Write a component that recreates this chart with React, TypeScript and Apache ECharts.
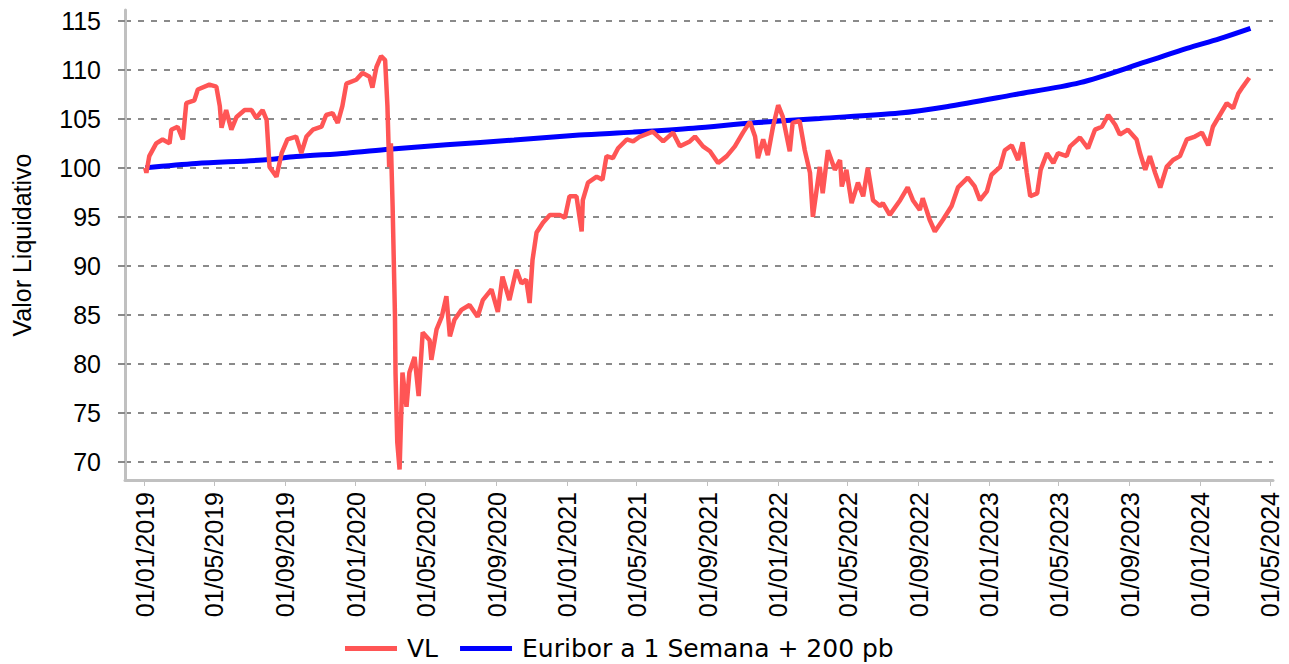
import React, { useEffect, useRef } from "react";
import * as echarts from "echarts";

const vlDates = [
  "2019-01-02","2019-01-04","2019-01-09","2019-01-21","2019-02-01","2019-02-13","2019-02-16","2019-02-27","2019-03-08","2019-03-14",
  "2019-03-28","2019-04-03","2019-04-23","2019-05-05","2019-05-11","2019-05-14","2019-05-22","2019-05-31","2019-06-09","2019-06-23",
  "2019-07-05","2019-07-13","2019-07-24","2019-07-31","2019-08-05","2019-08-17","2019-08-26","2019-09-05","2019-09-20","2019-09-29",
  "2019-10-08","2019-10-19","2019-11-03","2019-11-11","2019-11-22","2019-12-01","2019-12-09","2019-12-16","2020-01-02","2020-01-13",
  "2020-01-25","2020-01-30","2020-02-06","2020-02-14","2020-02-21","2020-02-25","2020-02-28","2020-03-02","2020-03-05","2020-03-09",
  "2020-03-10","2020-03-13","2020-03-17","2020-03-22","2020-03-29","2020-04-03","2020-04-12","2020-04-19","2020-04-26","2020-05-08",
  "2020-05-11","2020-05-20","2020-05-29","2020-06-06","2020-06-12","2020-06-20","2020-07-02","2020-07-16","2020-07-30","2020-08-08",
  "2020-08-23","2020-09-03","2020-09-11","2020-09-23","2020-10-05","2020-10-14","2020-10-22","2020-10-28","2020-11-02","2020-11-09",
  "2020-11-20","2020-12-02","2020-12-19","2020-12-28","2021-01-05","2021-01-17","2021-01-26","2021-01-28","2021-02-06","2021-02-21",
  "2021-03-03","2021-03-10","2021-03-21","2021-03-30","2021-04-14","2021-04-25","2021-05-07","2021-05-29","2021-06-16","2021-07-03",
  "2021-07-15","2021-08-01","2021-08-10","2021-08-24","2021-09-05","2021-09-19","2021-10-04","2021-10-18","2021-11-01","2021-11-13",
  "2021-11-22","2021-11-27","2021-12-06","2021-12-14","2021-12-23","2022-01-01","2022-01-09","2022-01-21","2022-01-26","2022-02-07",
  "2022-02-16","2022-02-25","2022-03-02","2022-03-14","2022-03-19","2022-03-28","2022-04-09","2022-04-18","2022-04-21","2022-04-29",
  "2022-05-08","2022-05-19","2022-05-28","2022-06-05","2022-06-14","2022-06-26","2022-07-01","2022-07-13","2022-07-31","2022-08-13",
  "2022-08-22","2022-09-03","2022-09-08","2022-09-20","2022-09-29","2022-10-13","2022-10-28","2022-11-08","2022-11-25","2022-12-07",
  "2022-12-16","2022-12-28","2023-01-05","2023-01-20","2023-01-28","2023-02-09","2023-02-20","2023-02-28","2023-03-07","2023-03-13",
  "2023-03-25","2023-03-31","2023-04-11","2023-04-22","2023-04-30","2023-05-15","2023-05-21","2023-06-07","2023-06-21","2023-07-03",
  "2023-07-15","2023-07-26","2023-08-07","2023-08-15","2023-08-29","2023-09-13","2023-09-19","2023-09-28","2023-10-06","2023-10-15",
  "2023-10-24","2023-11-04","2023-11-15","2023-11-27","2023-12-09","2023-12-23","2024-01-04","2024-01-15","2024-01-23","2024-02-04",
  "2024-02-16","2024-02-27","2024-03-07","2024-03-15","2024-03-26"
];
const vlValues = [
  100.0,99.5,101.2,102.5,102.9,102.5,103.9,104.2,102.9,106.6,
  106.9,108.0,108.5,108.3,106.3,104.1,105.9,103.9,105.2,105.9,
  105.9,105.1,105.9,104.9,100.1,99.1,101.5,102.9,103.2,101.5,
  103.2,103.9,104.2,105.4,105.6,104.6,106.3,108.6,109.0,109.7,
  109.3,108.2,110.3,111.4,111.0,106.3,100.1,102.5,96.0,85.0,
  79.0,72.0,69.2,79.1,75.6,79.1,80.7,76.7,83.2,82.4,
  80.4,83.5,84.8,86.9,82.8,84.5,85.5,86.0,84.8,86.5,
  87.6,85.3,88.9,86.5,89.6,88.2,88.6,86.2,90.6,93.4,
  94.4,95.2,95.2,94.9,97.1,97.1,93.5,96.7,98.5,99.1,
  98.8,101.2,101.0,102.0,102.9,102.7,103.2,103.7,102.7,103.6,
  102.2,102.7,103.2,102.2,101.7,100.5,101.2,102.2,103.6,104.7,
  103.2,101.0,102.9,101.3,104.2,106.4,105.2,101.7,104.6,104.8,
  101.8,99.5,95.0,100.1,97.4,101.8,99.8,100.8,98.1,99.8,
  96.4,98.5,97.1,100.0,96.7,96.1,96.4,95.2,96.7,98.0,
  96.7,95.7,96.9,94.7,93.5,94.7,96.1,98.0,99.0,98.1,
  96.7,97.6,99.3,100.1,101.8,102.3,100.8,102.6,99.5,97.1,
  97.4,99.8,101.5,100.5,101.5,101.2,102.2,103.1,102.0,103.9,
  104.2,105.4,104.4,103.4,103.9,102.9,101.5,99.8,101.2,99.5,
  98.0,100.1,100.8,101.2,102.9,103.2,103.6,102.3,104.2,105.4,
  106.6,106.1,107.6,108.3,109.2
];

const euriborDates = [
  "2019-01-02","2019-03-31","2019-07-24","2019-09-20","2019-12-16","2020-02-28","2020-06-06","2020-10-01",
  "2021-01-22","2021-04-25","2021-08-07","2021-11-20","2022-03-14","2022-07-30","2022-10-19","2023-02-11",
  "2023-06-07","2023-09-30","2023-12-09","2024-02-04","2024-03-28"
];
const euriborValues = [
  100.0,100.45,100.8,101.15,101.5,101.9,102.35,102.85,
  103.35,103.65,104.05,104.6,105.05,105.6,106.25,107.45,
  108.7,110.85,112.2,113.2,114.25
];

const xTickDates = [
  "2019-01-01","2019-05-01","2019-09-01","2020-01-01","2020-05-01","2020-09-01",
  "2021-01-01","2021-05-01","2021-09-01","2022-01-01","2022-05-01","2022-09-01",
  "2023-01-01","2023-05-01","2023-09-01","2024-01-01","2024-05-01"
];
const xMinDate = "2018-11-28";
const xMaxDate = "2024-05-06";
const yTicks = [70, 75, 80, 85, 90, 95, 100, 105, 110, 115];

const seriesNames = ["VL", "Euribor a 1 Semana + 200 pb"];
const yAxisName = "Valor Liquidativo";

const FONT = "'Liberation Sans', Arial, sans-serif";
const LEGEND_FONT = "'DejaVu Sans', 'Liberation Sans', sans-serif";

function ts(d: string) {
  return Date.parse(d + "T00:00:00Z");
}
function pad(n: number) {
  return n < 10 ? "0" + n : "" + n;
}

export default function App() {
  const ref = useRef<HTMLDivElement>(null);
  useEffect(() => {
    if (!ref.current) return;
    const chart = echarts.init(ref.current, undefined, { renderer: "svg" });
    const vlData = vlDates.map((d, i) => [ts(d), vlValues[i]]);
    const euData = euriborDates.map((d, i) => [ts(d), euriborValues[i]]);
    const xTicks = xTickDates.map(ts);
    chart.setOption({
      animation: false,
      backgroundColor: "#ffffff",
      textStyle: { fontFamily: FONT },
      grid: { left: 125, right: 16, top: 10, bottom: 184, containLabel: false },
      legend: {
        data: seriesNames,
        left: 345,
        top: 636,
        padding: 0,
        icon: "rect",
        itemWidth: 52,
        itemHeight: 5,
        itemGap: 22,
        textStyle: { fontSize: 25, color: "#000", fontFamily: LEGEND_FONT, padding: [0, 0, 0, 5] },
      },
      xAxis: {
        type: "value",
        min: ts(xMinDate),
        max: ts(xMaxDate),
        axisLine: { show: true, lineStyle: { color: "#c0c0c0", width: 3 } },
        axisTick: {
          show: true,
          length: 6,
          customValues: xTicks,
          lineStyle: { color: "#c0c0c0", width: 1 },
        },
        axisLabel: {
          customValues: xTicks,
          rotate: 90,
          margin: 12,
          fontSize: 25,
          color: "#000",
          fontFamily: FONT,
          hideOverlap: false,
          formatter: (v: number) => {
            const d = new Date(v);
            return pad(d.getUTCDate()) + "/" + pad(d.getUTCMonth() + 1) + "/" + d.getUTCFullYear();
          },
        },
        splitLine: { show: false },
      },
      yAxis: {
        type: "value",
        min: 68.13,
        max: 116.12,
        name: yAxisName,
        nameLocation: "middle",
        nameRotate: 90,
        nameGap: 91,
        nameTextStyle: { fontSize: 25, color: "#000", fontFamily: FONT },
        axisLine: { show: true, lineStyle: { color: "#c0c0c0", width: 3 } },
        axisTick: {
          show: true,
          length: 7,
          customValues: yTicks,
          lineStyle: { color: "#8a8a8a", width: 2 },
        },
        axisLabel: {
          customValues: yTicks,
          margin: 24,
          fontSize: 25,
          color: "#000",
          fontFamily: FONT,
        },
        splitLine: {
          show: true,
          lineStyle: { color: "#8a8a8a", width: 2, type: [6, 7] },
        },
      },
      series: [
        {
          name: seriesNames[0],
          type: "line",
          data: vlData,
          showSymbol: false,
          symbol: "none",
          z: 3,
          itemStyle: { color: "#ff5555" },
          lineStyle: { color: "#ff5555", width: 4.5 },
        },
        {
          name: seriesNames[1],
          type: "line",
          data: euData,
          showSymbol: false,
          symbol: "none",
          smooth: 0.3,
          z: 2,
          itemStyle: { color: "#0000ff" },
          lineStyle: { color: "#0000ff", width: 5 },
        },
      ],
    });
    return () => chart.dispose();
  }, []);
  return (
    <div
      ref={ref}
      style={{ position: "absolute", left: 0, top: 0, width: 1289, height: 664 }}
    />
  );
}
